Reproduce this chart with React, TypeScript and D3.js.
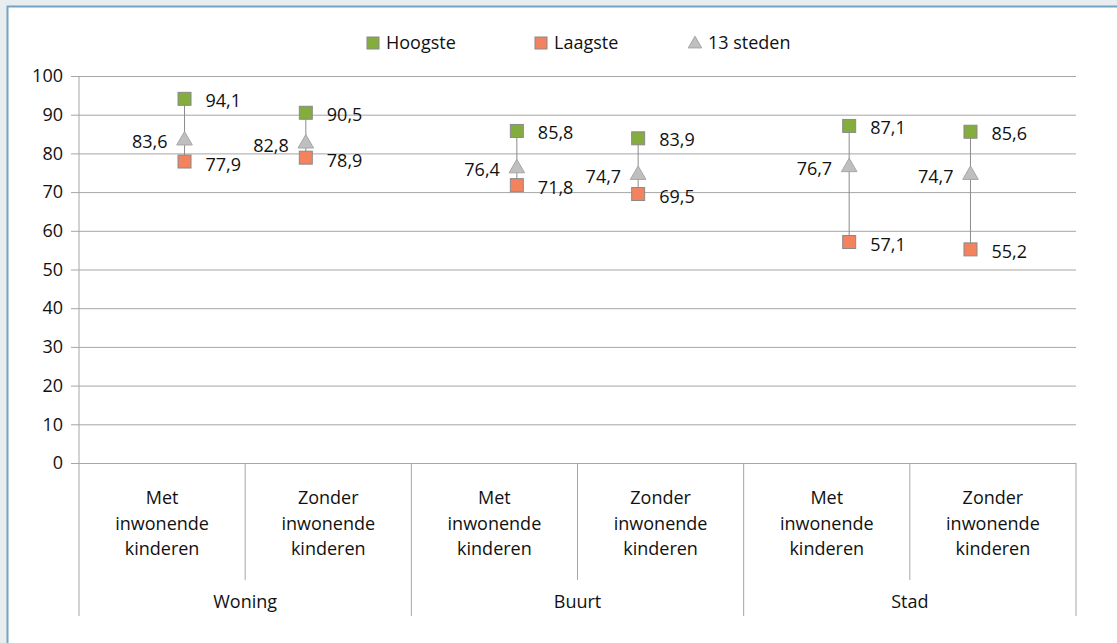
import * as d3 from "d3";
import { useEffect, useRef } from "react";

const width = 1117,
  height = 643,
  marginTop = 76,
  marginRight = 41,
  marginBottom = 180,
  marginLeft = 79;

const groups = ["Woning", "Buurt", "Stad"];
const subLabels = [
  ["Met", "inwonende", "kinderen"],
  ["Zonder", "inwonende", "kinderen"],
];
const categories = [
  "Woning|Met",
  "Woning|Zonder",
  "Buurt|Met",
  "Buurt|Zonder",
  "Stad|Met",
  "Stad|Zonder",
];
const hoogste = [94.1, 90.5, 85.8, 83.9, 87.1, 85.6];
const laagste = [77.9, 78.9, 71.8, 69.5, 57.1, 55.2];
const steden = [83.6, 82.8, 76.4, 74.7, 76.7, 74.7];
const yTicks = [0, 10, 20, 30, 40, 50, 60, 70, 80, 90, 100];

const green = "#84ad3d";
const orange = "#f3825f";
const grey = "#bfbfbf";
const line = "#a6a6a6";
const font = "'Open Sans', sans-serif";
const fs = 18;
const fmt = (v: number) => v.toFixed(1).replace(".", ",");

export default function App() {
  const ref = useRef<SVGSVGElement | null>(null);

  useEffect(() => {
    document.body.style.margin = "0";
    if (!ref.current) return;
    const svg = d3.select(ref.current);
    svg.selectAll("*").remove();

    // page background and panel frame
    svg.append("rect").attr("width", width).attr("height", height).attr("fill", "#e8edf0");
    svg
      .append("rect")
      .attr("x", 7.5)
      .attr("y", 6.5)
      .attr("width", width + 20)
      .attr("height", height + 20)
      .attr("fill", "#fff")
      .attr("stroke", "#72a5c2")
      .attr("stroke-width", 2);

    const x = d3
      .scaleBand()
      .domain(categories)
      .range([marginLeft, width - marginRight]);
    const y = d3
      .scaleLinear()
      .domain([0, 100])
      .range([height - marginBottom, marginTop]);

    // markers sit toward the group centre
    const shift = x.bandwidth() * 0.135;
    const px = (i: number) =>
      x(categories[i])! + x.bandwidth() / 2 + (i % 2 === 0 ? shift : -shift);

    // y axis with gridlines
    svg
      .append("g")
      .attr("transform", `translate(${marginLeft},0)`)
      .call(
        d3
          .axisLeft(y)
          .tickValues(yTicks)
          .tickSize(8)
          .tickFormat((d) => String(d))
      )
      .call((g) => g.select(".domain").remove())
      .call((g) => g.selectAll(".tick line").attr("stroke", line))
      .call((g) =>
        g
          .selectAll(".tick line")
          .clone()
          .attr("x1", 0)
          .attr("x2", width - marginLeft - marginRight)
          .attr("stroke", line)
      )
      .call((g) =>
        g
          .selectAll(".tick text")
          .attr("x", -16)
          .attr("font-size", fs)
          .attr("font-family", font)
          .attr("fill", "#111")
      );

    const y0 = y(0);
    // category separators
    categories.forEach((c, i) => {
      const isGroupEdge = i % 2 === 0;
      svg
        .append("line")
        .attr("x1", x(c)!)
        .attr("x2", x(c)!)
        .attr("y1", i === 0 ? marginTop : y0)
        .attr("y2", isGroupEdge ? 616 : 580)
        .attr("stroke", line);
    });
    svg
      .append("line")
      .attr("x1", width - marginRight)
      .attr("x2", width - marginRight)
      .attr("y1", y0)
      .attr("y2", 616)
      .attr("stroke", line);

    // subcategory labels
    categories.forEach((c, i) => {
      const t = svg
        .append("text")
        .attr("x", x(c)! + x.bandwidth() / 2)
        .attr("y", 504)
        .attr("text-anchor", "middle")
        .attr("font-size", fs)
        .attr("font-family", font)
        .attr("fill", "#111");
      subLabels[i % 2].forEach((s, k) => {
        t.append("tspan")
          .attr("x", x(c)! + x.bandwidth() / 2)
          .attr("dy", k === 0 ? 0 : 25.5)
          .text(s);
      });
    });
    groups.forEach((gname, j) => {
      svg
        .append("text")
        .attr("x", x(categories[j * 2 + 1])!)
        .attr("y", 608)
        .attr("text-anchor", "middle")
        .attr("font-size", fs)
        .attr("font-family", font)
        .attr("fill", "#111")
        .text(gname);
    });

    // high-low lines
    categories.forEach((_, i) => {
      svg
        .append("line")
        .attr("x1", px(i))
        .attr("x2", px(i))
        .attr("y1", y(hoogste[i]))
        .attr("y2", y(laagste[i]))
        .attr("stroke", "#8c8c8c");
    });

    const tri = d3.symbol(d3.symbolTriangle, 105);
    const sq = 13;
    categories.forEach((_, i) => {
      const cx = px(i);
      svg
        .append("path")
        .attr("d", tri())
        .attr("transform", `translate(${cx},${y(steden[i]) + 1})`)
        .attr("fill", grey)
        .attr("stroke", "#a6a6a6");
      svg
        .append("rect")
        .attr("x", cx - sq / 2)
        .attr("y", y(hoogste[i]) - sq / 2)
        .attr("width", sq)
        .attr("height", sq)
        .attr("fill", green)
        .attr("stroke", "#8a8a8a");
      svg
        .append("rect")
        .attr("x", cx - sq / 2)
        .attr("y", y(laagste[i]) - sq / 2)
        .attr("width", sq)
        .attr("height", sq)
        .attr("fill", orange)
        .attr("stroke", "#8a8a8a");

      const lbl = (tx: number, ty: number, anchor: string, v: number) =>
        svg
          .append("text")
          .attr("x", tx)
          .attr("y", ty)
          .attr("text-anchor", anchor)
          .attr("font-size", fs)
          .attr("font-family", font)
          .attr("fill", "#111")
          .text(fmt(v));
      lbl(cx + 21, y(hoogste[i]) + 8, "start", hoogste[i]);
      lbl(cx + 21, y(laagste[i]) + 9, "start", laagste[i]);
      lbl(cx - 17, y(steden[i]) + 9, "end", steden[i]);
    });

    // legend
    const legend = [
      { name: "Hoogste", kind: "sq", color: green, x: 367 },
      { name: "Laagste", kind: "sq", color: orange, x: 535 },
      { name: "13 steden", kind: "tri", color: grey, x: 689 },
    ];
    legend.forEach((l) => {
      if (l.kind === "sq") {
        svg
          .append("rect")
          .attr("x", l.x)
          .attr("y", 37)
          .attr("width", 12)
          .attr("height", 12)
          .attr("fill", l.color)
          .attr("stroke", "#8a8a8a");
      } else {
        svg
          .append("path")
          .attr("d", d3.symbol(d3.symbolTriangle, 80)())
          .attr("transform", `translate(${l.x + 6},${44})`)
          .attr("fill", l.color)
          .attr("stroke", "#a6a6a6");
      }
      svg
        .append("text")
        .attr("x", l.x + 19)
        .attr("y", 49)
        .attr("font-size", fs)
        .attr("font-family", font)
        .attr("fill", "#111")
        .text(l.name);
    });
  }, []);

  return <svg ref={ref} width={width} height={height} style={{ display: "block" }} />;
}
